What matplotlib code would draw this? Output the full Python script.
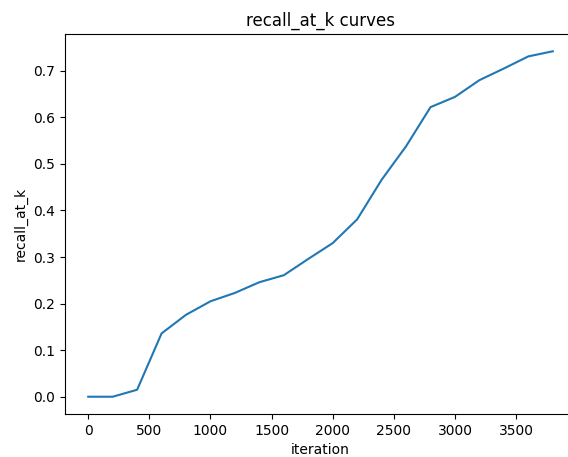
import matplotlib
matplotlib.use('Agg')
import matplotlib.pyplot as plt

iteration = [0, 200, 400, 600, 800, 1000, 1200, 1400, 1600, 1800,
             2000, 2200, 2400, 2600, 2800, 3000, 3200, 3400, 3600, 3800]
recall_at_k = [0.0, 0.0, 0.015, 0.136, 0.176, 0.205, 0.223, 0.246, 0.261, 0.296,
               0.330, 0.381, 0.466, 0.538, 0.622, 0.644, 0.680, 0.705, 0.731, 0.742]

fig = plt.figure(figsize=(5.68, 4.57), dpi=100)
ax = fig.add_axes([65 / 568, 43 / 457, 511 / 568, 380 / 457])
ax.plot(iteration, recall_at_k)
ax.set_title('recall_at_k curves')
ax.set_xlabel('iteration')
ax.set_ylabel('recall_at_k')

fig.savefig('out.png', dpi=100)
